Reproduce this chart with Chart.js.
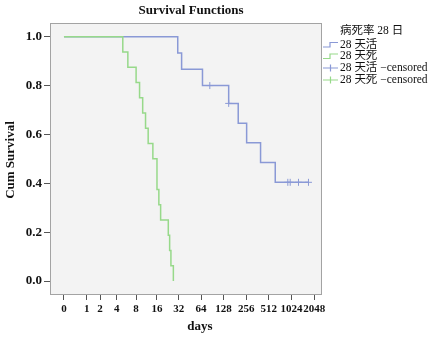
<!DOCTYPE html>
<html>
<head>
<meta charset="utf-8">
<script src="https://cdn.jsdelivr.net/npm/chart.js@4"></script>
<style>
  html, body { margin: 0; background: #fff; }
</style>
</head>
<body>
<canvas id="km" width="430" height="337"></canvas>
<script>
// eixo x em dias (escala log2(dias+1), igual ao gráfico original)
const diasTicks = [0, 1, 2, 4, 8, 16, 32, 64, 128, 256, 512, 1024, 2048];
const yTicks = [0, 0.2, 0.4, 0.6, 0.8, 1.0];

// 28 天活 - curva de sobrevida (tempos em dias)
const vivoTempos = [0, 31, 35, 67, 150, 201, 260, 398, 623, 1716];
const vivoSobrev = [1, 0.933, 0.867, 0.8, 0.727, 0.646, 0.566, 0.485, 0.404, 0.404];
const vivoCensTempos = [84, 150, 914, 983, 1266, 1716];
const vivoCensSobrev = [0.8, 0.727, 0.404, 0.404, 0.404, 0.404];

// 28 天死
const mortoTempos = [0, 5, 6, 8, 9, 10, 11, 12, 14, 16, 17, 18, 23, 24, 25, 27];
const mortoSobrev = [1, 0.9375, 0.875, 0.8125, 0.75, 0.6875, 0.625, 0.5625, 0.5, 0.375, 0.3125, 0.25, 0.1875, 0.125, 0.0625, 0];
const mortoCensTempos = [];
const mortoCensSobrev = [];

const legendaTitulo = '病死率 28 日';
const legendaItens = ['28 天活', '28 天死', '28 天活 −censored', '28 天死 −censored'];

const azul = '#8a99d6';
const verde = '#97d98a';
const fonteSerif = "'Liberation Serif', 'Noto Sans CJK SC', serif";

const lx = d => Math.log2(d + 1);
const pontos = (tempos, vals) => tempos.map((t, i) => ({ x: lx(t), y: vals[i] }));

// fundo cinza + moldura da área do gráfico
const fundoPlot = {
  id: 'fundoPlot',
  beforeDatasetsDraw(chart) {
    const { ctx, chartArea: a } = chart;
    ctx.save();
    ctx.fillStyle = '#f3f3f3';
    ctx.fillRect(a.left, a.top, a.right - a.left, a.bottom - a.top);
    ctx.strokeStyle = '#a3a3a3';
    ctx.lineWidth = 1;
    ctx.strokeRect(a.left + 0.5, a.top + 0.5, a.right - a.left - 1, a.bottom - a.top);
    ctx.restore();
  }
};

// titulos e legenda desenhados na mão (pra bater a posição do SPSS)
const textos = {
  id: 'textos',
  afterDraw(chart) {
    const ctx = chart.ctx;
    ctx.save();
    ctx.fillStyle = '#111';
    ctx.textBaseline = 'middle';
    ctx.textAlign = 'center';
    ctx.font = 'bold 13px ' + fonteSerif;
    ctx.fillText('Survival Functions', 191, 11);
    ctx.fillText('days', 200, 327);
    ctx.save();
    ctx.translate(11, 160);
    ctx.rotate(-Math.PI / 2);
    ctx.fillText('Cum Survival', 0, 0);
    ctx.restore();

    // legenda
    ctx.textAlign = 'left';
    ctx.font = '11.5px ' + fonteSerif;
    ctx.fillText(legendaTitulo, 340, 31);
    const linhas = [44.5, 56, 68, 80];
    const cores = [azul, verde, azul, verde];
    legendaItens.forEach((txt, i) => {
      const y = linhas[i];
      ctx.strokeStyle = cores[i];
      ctx.lineWidth = 1.2;
      ctx.beginPath();
      if (i < 2) {
        ctx.moveTo(323, y + 2.5);
        ctx.lineTo(330, y + 2.5);
        ctx.lineTo(330, y - 2);
        ctx.lineTo(338, y - 2);
      } else {
        ctx.moveTo(323, y);
        ctx.lineTo(338, y);
        ctx.moveTo(330.5, y - 3.5);
        ctx.lineTo(330.5, y + 3.5);
      }
      ctx.stroke();
      ctx.fillStyle = '#111';
      ctx.fillText(txt, 340, y);
    });
    ctx.restore();
  }
};

const ctx = document.getElementById('km').getContext('2d');
new Chart(ctx, {
  type: 'scatter',
  data: {
    datasets: [
      { data: pontos(mortoTempos, mortoSobrev), showLine: true, stepped: 'before',
        borderColor: verde, borderWidth: 1.5, pointRadius: 0 },
      { data: pontos(mortoCensTempos, mortoCensSobrev), showLine: false,
        pointStyle: 'cross', pointRadius: 3.5, borderColor: verde, borderWidth: 1 },
      { data: pontos(vivoTempos, vivoSobrev), showLine: true, stepped: 'before',
        borderColor: azul, borderWidth: 1.5, pointRadius: 0 },
      { data: pontos(vivoCensTempos, vivoCensSobrev), showLine: false,
        pointStyle: 'cross', pointRadius: 3.5, borderColor: azul, borderWidth: 1 }
    ]
  },
  options: {
    responsive: false,
    animation: false,
    layout: { padding: { top: 23, right: 108, left: 0, bottom: 0 } },
    plugins: { legend: { display: false }, tooltip: { enabled: false } },
    scales: {
      x: {
        type: 'linear',
        min: -0.614,
        max: 11.34,
        afterBuildTicks: s => { s.ticks = diasTicks.map(d => ({ value: lx(d) })); },
        afterFit: s => { s.height = 43; },
        grid: { drawOnChartArea: false, drawTicks: true, tickLength: 6, tickColor: '#555' },
        border: { display: false },
        ticks: {
          autoSkip: false, maxRotation: 0, padding: 3, color: '#111',
          font: { family: fonteSerif, weight: 'bold', size: 11 },
          callback: (v, i) => diasTicks[i]
        }
      },
      y: {
        min: -0.053,
        max: 1.056,
        afterBuildTicks: s => { s.ticks = yTicks.map(v => ({ value: v })); },
        afterFit: s => { s.width = 50; },
        grid: { drawOnChartArea: false, drawTicks: true, tickLength: 6, tickColor: '#555' },
        border: { display: false },
        ticks: {
          padding: 2, color: '#111',
          font: { family: fonteSerif, weight: 'bold', size: 13 },
          callback: v => v.toFixed(1)
        }
      }
    }
  },
  plugins: [fundoPlot, textos]
});
</script>
</body>
</html>
